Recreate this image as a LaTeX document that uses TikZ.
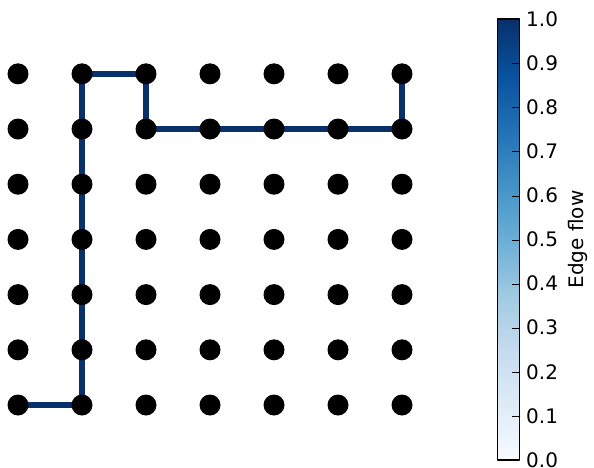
\documentclass[tikz,border=0pt]{standalone}
\usepackage{fontspec}
\setmainfont{DejaVu Sans}
\usetikzlibrary{backgrounds}
\definecolor{flowdark}{RGB}{8,48,107}
\definecolor{flowfaint}{RGB}{236,243,252}
\pgfdeclareverticalshading{blues}{100bp}{rgb(0bp)=(0.969,0.984,1); rgb(25bp)=(0.969,0.984,1);
  rgb(31.25bp)=(0.871,0.922,0.969); rgb(37.5bp)=(0.776,0.859,0.937);
  rgb(43.75bp)=(0.620,0.792,0.882); rgb(50bp)=(0.420,0.682,0.839);
  rgb(56.25bp)=(0.259,0.573,0.776); rgb(62.5bp)=(0.129,0.443,0.710);
  rgb(68.75bp)=(0.031,0.318,0.612); rgb(75bp)=(0.031,0.188,0.420);
  rgb(100bp)=(0.031,0.188,0.420)}
\tikzset{
  dot/.style={circle, fill=black, inner sep=0pt, minimum size=21pt},
  faint/.style={flowfaint, line width=5.5pt},
  flow/.style={flowdark, line width=5.5pt}
}
\begin{document}
\begin{tikzpicture}[x=1pt, y=-1pt, font=\fontsize{20}{24}\selectfont, line join=round]
\useasboundingbox (0,0) rectangle (594,467);
% grid of dots
\foreach \r in {1,...,7}
  \foreach \c in {1,...,7}
    \node[dot] (n\r\c) at ({18+64*(\c-1)}, {73.8+55.2*(\r-1)}) {};
\begin{pgfonlayer}{background}
% faint edges
\foreach \r in {1,...,7}
  \foreach \c [evaluate=\c as \d using int(\c+1)] in {1,...,6}{
    \draw[faint] (n\r\c.center) -- (n\r\d.center);
    \draw[faint] (n\c\r.center) -- (n\d\r.center);
  }
% flow path
\foreach \a/\b in {71/72, 72/62, 62/52, 52/42, 42/32, 32/22, 22/12, 12/13,
                   13/23, 23/24, 24/25, 25/26, 26/27, 27/17}
  \draw[flow] (n\a.center) -- (n\b.center);
\end{pgfonlayer}
% colour bar
\node[draw, line width=1.2pt, shading=blues, inner sep=0pt,
      minimum width=22pt, minimum height=441pt] (bar) at (508.5,239.5) {};
\foreach \v in {1,...,9}
  \draw[line width=1pt] (bar.south east) ++(0,{-44.1*\v}) -- ++(-8,0);
\foreach \v/\lab in {0/0.0, 1/0.1, 2/0.2, 3/0.3, 4/0.4, 5/0.5,
                     6/0.6, 7/0.7, 8/0.8, 9/0.9, 10/1.0}
  \node[right, inner sep=0pt] (t\v) at (526, {460-44.1*\v}) {\lab};
\node[rotate=90] (axlabel) at (578,239.5) {Edge flow};
\end{tikzpicture}
\end{document}
